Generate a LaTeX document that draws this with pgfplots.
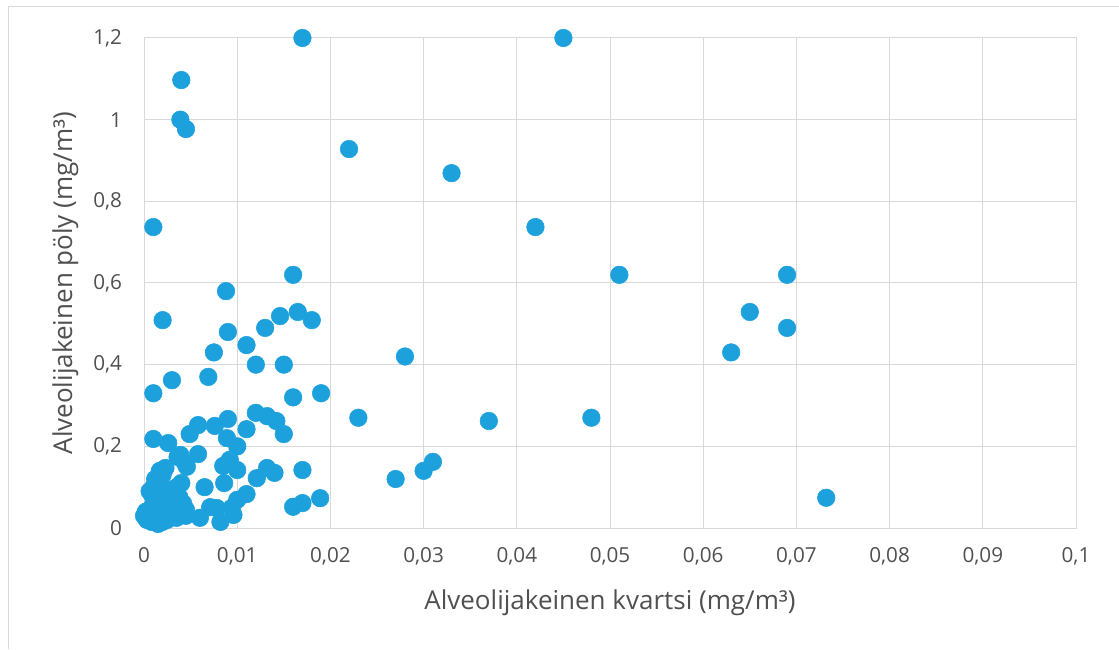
\documentclass[border=0pt]{standalone}
\usepackage{pgfplots}
\pgfplotsset{compat=1.18}
\usepackage{fontspec}
\setmainfont{Open Sans}
\definecolor{mcol}{RGB}{29,161,221}
\definecolor{gridc}{RGB}{217,217,217}
\definecolor{txtc}{RGB}{80,80,80}
\definecolor{framec}{RGB}{217,217,217}
\begin{document}
\begin{tikzpicture}
\path[use as bounding box] (0,0) rectangle (839.25pt,486.75pt);
\draw[framec, line width=0.75pt] (6pt,0) -- (6pt,481.5pt) -- (839.25pt,481.5pt);
\begin{axis}[
  at={(108pt,90.75pt)}, anchor=south west,
  scale only axis, width=699pt, height=367.5pt,
  xmin=0, xmax=0.1, ymin=0, ymax=1.2,
  clip=false,
  xtick={0,0.01,0.02,0.03,0.04,0.05,0.06,0.07,0.08,0.09,0.1},
  xticklabels={0,{0,01},{0,02},{0,03},{0,04},{0,05},{0,06},{0,07},{0,08},{0,09},{0,1}},
  ytick={0,0.2,0.4,0.6,0.8,1,1.2},
  yticklabels={0,{0,2},{0,4},{0,6},{0,8},1,{1,2}},
  major tick length=0,
  grid=major,
  major grid style={draw=gridc, line width=0.75pt},
  axis line style={draw=gridc, line width=0.75pt},
  tick label style={font=\fontsize{15.5pt}{18pt}\selectfont, text=txtc},
  xticklabel style={yshift=-11pt},
  yticklabel style={xshift=-13pt},
  xlabel={Alveolijakeinen kvartsi (mg/m³)},
  ylabel={Alveolijakeinen pöly (mg/m³)},
  label style={font=\fontsize{19.5pt}{23pt}\selectfont, text=txtc},
  xlabel style={at={(0.5,0)}, anchor=center, yshift=-56pt},
  ylabel style={at={(0,0.5)}, anchor=center, yshift=59pt},
]
\addplot[only marks, mark=*, mark size=6.6pt, mark options={draw=mcol, fill=mcol}] coordinates {
(0.017,1.2) (0.045,1.2) (0.004,1.097) (0.0039,1.0) (0.0045,0.977)
(0.022,0.928) (0.033,0.869) (0.001,0.737) (0.042,0.737)
(0.016,0.62) (0.051,0.62) (0.069,0.62) (0.0088,0.58)
(0.065,0.529) (0.0165,0.529) (0.002,0.509) (0.018,0.509) (0.0146,0.519)
(0.013,0.49) (0.009,0.48) (0.011,0.448) (0.0075,0.43) (0.063,0.43)
(0.069,0.49) (0.028,0.42) (0.012,0.4) (0.015,0.4) (0.0069,0.37)
(0.003,0.362) (0.001,0.33) (0.016,0.32) (0.019,0.33)
(0.023,0.27) (0.037,0.262) (0.048,0.27)
(0.012,0.282) (0.0132,0.274) (0.0142,0.262) (0.015,0.23)
(0.009,0.267) (0.011,0.242) (0.0076,0.25) (0.0058,0.252) (0.0049,0.23)
(0.0089,0.22) (0.01,0.2) (0.001,0.218) (0.0026,0.208) (0.0039,0.179)
(0.0046,0.15) (0.0058,0.181) (0.0085,0.152) (0.0092,0.167) (0.01,0.142)
(0.0121,0.122) (0.0132,0.147) (0.014,0.135) (0.017,0.142)
(0.0065,0.1) (0.0086,0.11) (0.011,0.083) (0.01,0.069) (0.0094,0.049)
(0.0096,0.032) (0.0082,0.015) (0.0071,0.051) (0.006,0.025) (0.0078,0.049)
(0.016,0.052) (0.017,0.061) (0.0189,0.073)
(0.027,0.12) (0.030,0.14) (0.031,0.162) (0.0732,0.074)
(0.0036,0.174) (0.0044,0.159) (0.0023,0.147)
(0.0005,0.03) (0.0003,0.02) (0.0008,0.015) (0.001,0.025) (0.0015,0.01)
(0.002,0.015) (0.0025,0.02) (0.003,0.03) (0.0035,0.025) (0.004,0.04)
(0.0045,0.045) (0.0008,0.05) (0.0012,0.06) (0.0015,0.08) (0.001,0.1)
(0.0012,0.12) (0.0017,0.14) (0.002,0.05) (0.0025,0.07) (0.003,0.09)
(0.0035,0.1) (0.004,0.11) (0.002,0.1) (0.0015,0.04) (0.003,0.06)
(0.0038,0.075) (0.0042,0.06) (0.0009,0.08) (0.002,0.13) (0.0028,0.04)
(0.0045,0.03) (0.0,0.03) (0.0006,0.09) (0.0022,0.035) (0.0002,0.04)
};
\end{axis}
\end{tikzpicture}
\end{document}
